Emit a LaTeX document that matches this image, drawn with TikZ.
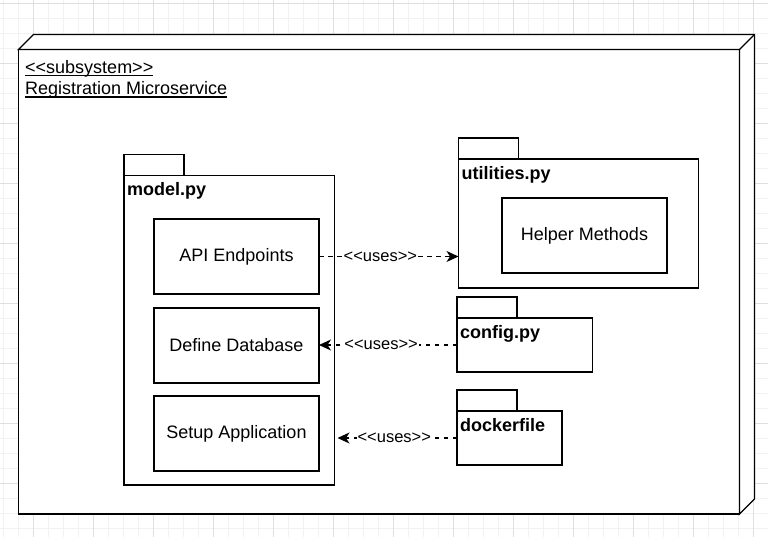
\documentclass[tikz,border=0pt]{standalone}
\usepackage{fontspec}
\setmainfont{Liberation Sans}
\usetikzlibrary{arrows.meta}
\newcommand\ltlt{<\kern0pt<}
\newcommand\gtgt{>\kern0pt>}
\newcommand\ulin[1]{\setbox0\hbox{#1}\rlap{\vrule width\wd0 height -1.5pt depth 2.9pt}\box0}
\begin{document}
\begin{tikzpicture}[x=1pt,y=-1pt,
  minorgrid/.style={draw=gray!10, line width=0.8pt},
  majorgrid/.style={draw=gray!25, line width=0.8pt},
  boxline/.style={line width=1.3pt, line join=miter},
  box/.style={draw, fill=white, line width=1.3pt, inner sep=0pt, outer sep=0pt},
  txt/.style={inner sep=0pt, font=\fontsize{18}{21.6}\selectfont},
  pkgname/.style={anchor=base west, inner sep=0pt, font=\fontsize{18}{21.6}\selectfont\bfseries},
  content/.style={font=\fontsize{18}{21.6}\selectfont, align=center},
  uses/.style={fill=white, inner sep=1pt, font=\fontsize{16.5}{19.8}\selectfont},
  dep/.style={line width=1.3pt, dash pattern=on 4.5pt off 4.5pt,
    -{Stealth[length=12pt,width=11pt,inset=3.5pt]}}
]
\useasboundingbox (0,0) rectangle (768,537);
\fill[white] (0,0) rectangle (768,537);
% grid
\foreach \k in {0,...,51} \draw[minorgrid] ({3.33+15*\k},0) -- ({3.33+15*\k},537);
\foreach \k in {0,...,35} \draw[minorgrid] (0,{3.33+15*\k}) -- (768,{3.33+15*\k});
\foreach \k in {0,...,12} \draw[majorgrid] ({33.33+60*\k},0) -- ({33.33+60*\k},537);
\foreach \k in {0,...,8} \draw[majorgrid] (0,{3.33+60*\k}) -- (768,{3.33+60*\k});

% subsystem 3D box
\node[box, minimum width=721pt, minimum height=464.5pt, anchor=north west] (sub) at (18.5,49.5) {};
\draw[boxline, fill=white] (sub.north west) -- ++(15,-15)
  -- ([shift={(15pt,15pt)}]sub.north east)
  -- ([shift={(15pt,15pt)}]sub.south east)
  -- (sub.south east) -- (sub.north east) -- cycle;
\draw[boxline] (sub.north east) -- ++(15,-15);
\node[txt, anchor=base west] (st) at (25,73.3) {\ulin{\ltlt subsystem\gtgt}};
\node[txt, anchor=base west] (sn) at (25,94.8) {\ulin{Registration Microservice}};

% model.py
\node[box, minimum width=60pt, minimum height=21pt, anchor=south west] (mtab) at (124,175.5) {};
\node[box, minimum width=210.5pt, minimum height=309.5pt, anchor=north west] (model) at (124,175.5) {};
\node[pkgname] (mname) at ([xshift=3pt,yshift=-20.5pt]model.north west) {model.py};
\node[box, content, minimum width=165pt, minimum height=75pt, anchor=north west] (api) at (154,219) {API Endpoints};
\node[box, content, minimum width=165pt, minimum height=75pt, anchor=north west] (db) at (154,308) {Define Database};
\node[box, content, minimum width=165pt, minimum height=75pt, anchor=north west] (setup) at (154,396) {Setup Application};

% utilities.py
\node[box, minimum width=60pt, minimum height=21pt, anchor=south west] (utab) at (458.5,159) {};
\node[box, minimum width=240pt, minimum height=129pt, anchor=north west] (util) at (458.5,159) {};
\node[pkgname] (uname) at ([xshift=3pt,yshift=-20.5pt]util.north west) {utilities.py};
\node[box, content, minimum width=165pt, minimum height=75pt, anchor=north west] (helper) at (502,198) {Helper Methods};

% config.py
\node[box, minimum width=60pt, minimum height=21pt, anchor=south west] (ctab) at (457,318) {};
\node[box, minimum width=135.5pt, minimum height=54pt, anchor=north west] (config) at (457,318) {};
\node[pkgname] (cname) at ([xshift=3pt,yshift=-20.5pt]config.north west) {config.py};

% dockerfile
\node[box, minimum width=60pt, minimum height=21pt, anchor=south west] (dtab) at (457,411) {};
\node[box, minimum width=105pt, minimum height=54pt, anchor=north west] (dock) at (457,411) {};
\node[pkgname] (dname) at ([xshift=3pt,yshift=-20.5pt]dock.north west) {dockerfile};

% dependencies
\draw[dep] (api.east) -- (api.east -| util.west) node[uses, pos=0.44] (l1) {\ltlt uses\gtgt};
\draw[dep] (config.west) -- (config.west -| db.east) node[uses, pos=0.55] (l2) {\ltlt uses\gtgt};
\draw[dep] (dock.west) -- ([xshift=3pt]dock.west -| model.east) node[uses, pos=0.525] (l3) {\ltlt uses\gtgt};
\end{tikzpicture}
\end{document}
